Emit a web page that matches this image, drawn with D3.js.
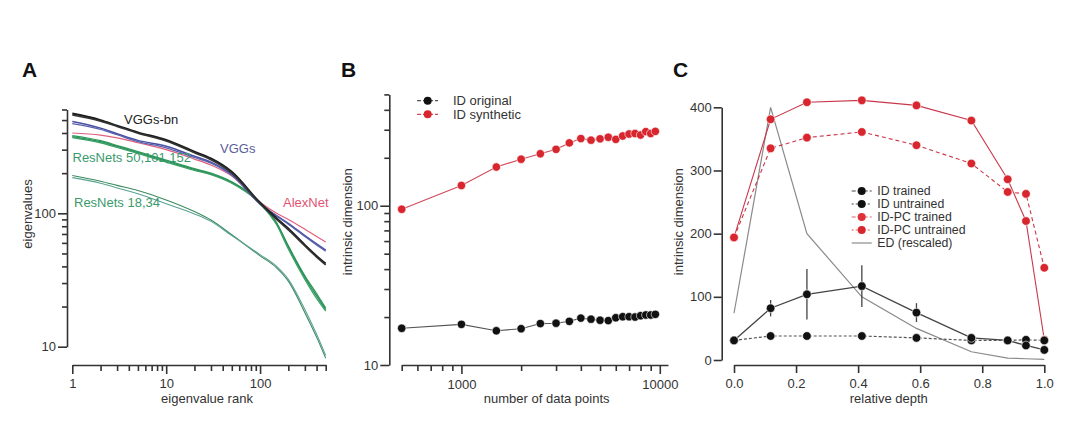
<!DOCTYPE html>
<html><head><meta charset="utf-8">
<script src="https://cdn.jsdelivr.net/npm/d3@7"></script>
<style>
body{margin:0;background:#fff;}
svg{display:block;font-family:"Liberation Sans",Arial,sans-serif;}
.axis path,.axis line{stroke:#333;stroke-width:1.6;}
.axis text{font-size:13px;fill:#333;font-family:"Liberation Sans",Arial,sans-serif;}
</style></head>
<body><svg id="c" width="1080" height="432"></svg>
<script>
// ---------- Panel A data ----------
const rankA = [1,2,3,5,10,20,30,50,100,150,200,300,400,500];
const vggbn1 = [560,500,455,405,355,290,258,205,120,92,77,58,48,42];
const vggbn2 = [545,490,448,398,348,284,252,200,118,90,75,57,47,41];
const vgg1 = [488,435,395,352,318,268,242,196,118,96,84,68,59,53];
const vgg2 = [470,425,388,345,310,262,238,193,117,95,83,67,58,52];
const alexnet = [400,386,368,338,300,255,230,190,121,100,90,76,67,61];
const res50a = [382,350,322,290,250,216,200,172,121,85,57,34,25,19.5];
const res50b = [376,344,317,285,246,213,197,170,119,84,56,33,24,19];
const res50c = [370,338,312,281,242,210,195,168,118,82,54,32,23,18.5];
const res18a = [192,174,162,148,126,103,89,69,48,39,31,18,11.8,8.2];
const res18b = [185,168,155,140,118,99,87,68,49,40,32,19,12.4,8.6];
const yTicksA = [10,100];
const xTicksA = [1,10,100];

// ---------- Panel B data ----------
const nPoints = [500,1000,1500,2000,2500,3000,3500,4000,4500,5000,5500,6000,6500,7000,7500,8000,8500,9000,9500];
const idOriginal = [17.0,18.0,16.4,16.9,18.2,18.3,18.8,19.7,19.4,19.1,19.0,19.8,20.1,20.1,20.0,20.4,20.6,20.6,20.8];
const idSynthetic = [95,134,175,196,212,226,248,264,258,263,269,261,274,282,284,278,292,284,293];
const yTicksB = [10,100];
const xTicksB = [1000,10000];

// ---------- Panel C data ----------
const depth = [0,0.118,0.235,0.412,0.588,0.765,0.882,0.941,1.0];
const idTrained = [31,82,104,117,75,35,31,23,16];
const idTrainedErr = [0,13,40,33,15,4,0,0,0];
const idUntrained = [31,38,38,38,35,31,31,32,31];
const idpcTrained = [194,381,408,411,403,379,286,220,32];
const idpcUntrained = [194,335,352,361,340,311,266,263,146];
const edRescaled = [74,400,200,100,50,13,3,2,1];
const yTicksC = [0,100,200,300,400];
const xTicksC = [0,0.2,0.4,0.6,0.8,1.0];

const svg = d3.select("#c");
svg.append("rect").attr("width",1080).attr("height",432).attr("fill","#fff");

function minorLog(lo, hi){
  const out=[];
  for(let d=1; d<=hi; d*=10){
    for(let k=2;k<=9;k++){const v=k*d; if(v>=lo && v<=hi) out.push(v);}
  }
  return out;
}

function panelLetter(t,x,y){
  svg.append("text").attr("x",x).attr("y",y).attr("font-size",21).attr("font-weight","bold").attr("fill","#111").text(t);
}
function yLabel(t,x,y){
  svg.append("text").attr("transform",`translate(${x},${y}) rotate(-90)`).attr("text-anchor","middle")
    .attr("font-size",13).attr("fill","#333").text(t);
}
function xLabel(t,x,y){
  svg.append("text").attr("x",x).attr("y",y).attr("text-anchor","middle").attr("font-size",13).attr("fill","#333").text(t);
}

// ================= Panel A =================
const xA = d3.scaleLog().domain([1,500]).range([72.3,325.7]);
const yA = d3.scaleLog().domain([10,600]).range([346.7,109.5]);
svg.append("g").attr("class","axis").attr("transform","translate(67,0)")
  .call(d3.axisLeft(yA).tickValues(yTicksA).tickFormat(d3.format("d")).tickSize(9).tickPadding(2).tickSizeOuter(0));
svg.append("g").attr("class","axis").attr("transform","translate(67,0)")
  .call(d3.axisLeft(yA).tickValues(minorLog(10,600).filter(v=>v!==100)).tickFormat("").tickSize(5).tickSizeOuter(0))
  .select(".domain").remove();
svg.append("g").attr("class","axis").attr("transform","translate(0,365)")
  .call(d3.axisBottom(xA).tickValues(xTicksA).tickFormat(d3.format("d")).tickSize(9).tickPadding(5).tickSizeOuter(0));
svg.append("g").attr("class","axis").attr("transform","translate(0,365)")
  .call(d3.axisBottom(xA).tickValues(minorLog(1,500).filter(v=>v!==10&&v!==100)).tickFormat("").tickSize(6).tickSizeOuter(0))
  .select(".domain").remove();

const lineA = d3.line().x((d,i)=>xA(rankA[i])).y(d=>yA(d)).curve(d3.curveMonotoneX);
const seriesA = [
  {v:res18a,c:"#3d8a5e",w:1.1},{v:res18b,c:"#5aa393",w:1.1},
  {v:alexnet,c:"#e0607e",w:1.2},
  {v:res50a,c:"#2f9a5c",w:1.3},{v:res50b,c:"#2a8c55",w:1.3},{v:res50c,c:"#3aa066",w:1.3},
  {v:vgg1,c:"#4a50a2",w:1.5},{v:vgg2,c:"#5a62b0",w:1.3},
  {v:vggbn1,c:"#1c1c1c",w:1.8},{v:vggbn2,c:"#333",w:1.6}
];
svg.append("g").selectAll("path").data(seriesA).join("path")
  .attr("d",d=>lineA(d.v)).attr("fill","none").attr("stroke",d=>d.c).attr("stroke-width",d=>d.w);

const labA = [
  {t:"VGGs-bn",x:124,y:123.5,c:"#222"},
  {t:"VGGs",x:220,y:153,c:"#5b5e9c"},
  {t:"AlexNet",x:283,y:206.5,c:"#df5473"},
  {t:"ResNets 50,101,152",x:72.5,y:161.5,c:"#3b9a6c"},
  {t:"ResNets 18,34",x:74,y:206.5,c:"#3b9a6c"}
];
svg.append("g").selectAll("text").data(labA).join("text")
  .attr("x",d=>d.x).attr("y",d=>d.y).attr("fill",d=>d.c).attr("font-size",13).text(d=>d.t);

panelLetter("A",22,77);
yLabel("eigenvalues",32,214);
xLabel("eigenvalue rank",207,403);

// ================= Panel B =================
const xB = d3.scaleLog().domain([500,11000]).range([401.7,668]);
const yB = d3.scaleLog().domain([10,500]).range([365,94.4]);
svg.append("g").attr("class","axis").attr("transform","translate(389.3,0)")
  .call(d3.axisLeft(yB).tickValues(yTicksB).tickFormat(d3.format("d")).tickSize(9).tickPadding(2).tickSizeOuter(0));
svg.append("g").attr("class","axis").attr("transform","translate(389.3,0)")
  .call(d3.axisLeft(yB).tickValues(minorLog(10,500).filter(v=>v!==100)).tickFormat("").tickSize(5).tickSizeOuter(0))
  .select(".domain").remove();
svg.append("g").attr("class","axis").attr("transform","translate(0,365)")
  .call(d3.axisBottom(xB).tickValues(xTicksB).tickFormat(d3.format("d")).tickSize(9).tickPadding(6).tickSizeOuter(0));
svg.append("g").attr("class","axis").attr("transform","translate(0,365)")
  .call(d3.axisBottom(xB).tickValues(minorLog(500,9000).filter(v=>v!==1000)).tickFormat("").tickSize(6).tickSizeOuter(0))
  .select(".domain").remove();

const lineB = d3.line().x((d,i)=>xB(nPoints[i])).y(d=>yB(d));
svg.append("path").attr("d",lineB(idOriginal)).attr("fill","none").attr("stroke","#555").attr("stroke-width",1.1);
svg.append("path").attr("d",lineB(idSynthetic)).attr("fill","none").attr("stroke","#d04a5a").attr("stroke-width",1.1);
svg.append("g").selectAll("circle").data(idOriginal).join("circle")
  .attr("cx",(d,i)=>xB(nPoints[i])).attr("cy",d=>yB(d)).attr("r",4.2).attr("fill","#111").attr("stroke","#fff").attr("stroke-width",0.6);
svg.append("g").selectAll("circle").data(idSynthetic).join("circle")
  .attr("cx",(d,i)=>xB(nPoints[i])).attr("cy",d=>yB(d)).attr("r",4.2).attr("fill","#d8262e").attr("stroke","#fff").attr("stroke-width",0.6);

// legend B
const legB = [{t:"ID original",c:"#111",lc:"#555"},{t:"ID synthetic",c:"#d8262e",lc:"#d04a5a"}];
legB.forEach((d,i)=>{
  const y = 100.7 + i*13.6;
  svg.append("line").attr("x1",417).attr("x2",438).attr("y1",y).attr("y2",y).attr("stroke",d.lc).attr("stroke-width",1.2).attr("stroke-dasharray","4,2");
  svg.append("circle").attr("cx",427.7).attr("cy",y).attr("r",4).attr("fill",d.c);
  svg.append("text").attr("x",453).attr("y",y+4.6).attr("font-size",13).attr("fill","#333").text(d.t);
});

panelLetter("B",341,77);
yLabel("intrinsic dimension",351.5,221.7);
xLabel("number of data points",546.7,403);

// ================= Panel C =================
const xC = d3.scaleLinear().domain([0,1]).range([734,1044.3]);
const yC = d3.scaleLinear().domain([0,400]).range([360,107.3]);
svg.append("g").attr("class","axis").attr("transform","translate(721.7,0)")
  .call(d3.axisLeft(yC).tickValues(yTicksC).tickFormat(d3.format("d")).tickSize(8).tickPadding(2).tickSizeOuter(0));
svg.append("g").attr("class","axis").attr("transform","translate(0,365)")
  .call(d3.axisBottom(xC).tickValues(xTicksC).tickFormat(d3.format(".1f")).tickSize(8).tickPadding(6).tickSizeOuter(0));

const lineC = d3.line().x((d,i)=>xC(depth[i])).y(d=>yC(d));
// ED
svg.append("path").attr("d",lineC(edRescaled)).attr("fill","none").attr("stroke","#8a8a8a").attr("stroke-width",1.2);
// red lines
svg.append("path").attr("d",lineC(idpcTrained)).attr("fill","none").attr("stroke","#c8384a").attr("stroke-width",1.1);
svg.append("path").attr("d",lineC(idpcUntrained)).attr("fill","none").attr("stroke","#c8384a").attr("stroke-width",1.1).attr("stroke-dasharray","4,3");
// black lines
svg.append("path").attr("d",lineC(idTrained)).attr("fill","none").attr("stroke","#444").attr("stroke-width",1.3);
svg.append("path").attr("d",lineC(idUntrained)).attr("fill","none").attr("stroke","#555").attr("stroke-width",1.2).attr("stroke-dasharray","3,2");
// error bars
svg.append("g").selectAll("line").data(idTrained).join("line")
  .attr("x1",(d,i)=>xC(depth[i])).attr("x2",(d,i)=>xC(depth[i]))
  .attr("y1",(d,i)=>yC(d-idTrainedErr[i])).attr("y2",(d,i)=>yC(d+idTrainedErr[i]))
  .attr("stroke","#444").attr("stroke-width",1.3);
function dots(vals,fill){
  svg.append("g").selectAll("circle").data(vals).join("circle")
    .attr("cx",(d,i)=>xC(depth[i])).attr("cy",d=>yC(d)).attr("r",4.3).attr("fill",fill).attr("stroke","#fff").attr("stroke-width",0.6);
}
dots(idpcUntrained,"#d8262e");
dots(idpcTrained,"#d8262e");
dots(idUntrained,"#111");
dots(idTrained,"#111");

// legend C
const legC = [
  {t:"ID trained",c:"#111",lc:"#444",dash:"4,2"},
  {t:"ID untrained",c:"#111",lc:"#444",dash:"2,2"},
  {t:"ID-PC trained",c:"#e0303a",lc:"#e06070",dash:"4,2"},
  {t:"ID-PC untrained",c:"#d8262e",lc:"#d06050",dash:"2,2"},
  {t:"ED (rescaled)",c:null,lc:"#8a8a8a",dash:null}
];
legC.forEach((d,i)=>{
  const y = 191 + i*13;
  const l = svg.append("line").attr("x1",851.7).attr("x2",871.7).attr("y1",y).attr("y2",y).attr("stroke",d.lc).attr("stroke-width",1.2);
  if(d.dash) l.attr("stroke-dasharray",d.dash);
  if(d.c) svg.append("circle").attr("cx",861.7).attr("cy",y).attr("r",4).attr("fill",d.c);
  svg.append("text").attr("x",877.3).attr("y",y+4.4).attr("font-size",12.3).attr("fill","#333").text(d.t);
});

panelLetter("C",673,77);
yLabel("intrinsic dimension",683,221.7);
xLabel("relative depth",888.8,403);
</script></body></html>
